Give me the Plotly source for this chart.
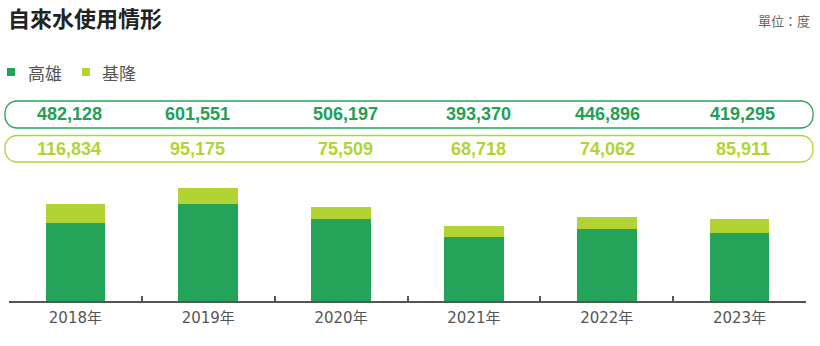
import plotly.graph_objects as go

# ---- data ----
years = ["2018年", "2019年", "2020年", "2021年", "2022年", "2023年"]
kaohsiung = [482128, 601551, 506197, 393370, 446896, 419295]
keelung = [116834, 95175, 75509, 68718, 74062, 85911]
series_names = ["高雄", "基隆"]
title_text = "自來水使用情形"
unit_text = "單位：度"

# ---- style ----
DARK = "#24a459"
DARK_TXT = "#22a055"
LIGHT = "#b3d334"
GRAY = "#555555"
W, H = 820, 346
L, R, T, B = 9, 14, 175, 45
PW, PH = W - L - R, H - T - B
CJK = "Noto Sans CJK TC, Noto Sans CJK SC, sans-serif"


def px(x):
    return (x - L) / PW


def py(y):
    return (H - B - y) / PH


def pill(x0, y0, x1, y1, r=12):
    k = 0.5523 * r
    p = lambda x, y: f"{px(x):.5f},{py(y):.5f}"
    return (
        f"M{p(x0 + r, y0)} L{p(x1 - r, y0)} "
        f"C{p(x1 - r + k, y0)} {p(x1, y0 + r - k)} {p(x1, y0 + r)} "
        f"L{p(x1, y1 - r)} "
        f"C{p(x1, y1 - r + k)} {p(x1 - r + k, y1)} {p(x1 - r, y1)} "
        f"L{p(x0 + r, y1)} "
        f"C{p(x0 + r - k, y1)} {p(x0, y1 - r + k)} {p(x0, y1 - r)} "
        f"L{p(x0, y0 + r)} "
        f"C{p(x0, y0 + r - k)} {p(x0 + r - k, y0)} {p(x0 + r, y0)} Z"
    )


fig = go.Figure()
fig.add_bar(x=years, y=kaohsiung, name=series_names[0], marker_color=DARK,
            marker_line_width=0, showlegend=False)
fig.add_bar(x=years, y=keelung, name=series_names[1], marker_color=LIGHT,
            marker_line_width=0, showlegend=False)

shapes = []
annotations = []

# pills
shapes.append(dict(type="path", xref="paper", yref="paper",
                   path=pill(5, 101, 813, 128), line=dict(color=DARK, width=1.3)))
shapes.append(dict(type="path", xref="paper", yref="paper",
                   path=pill(5, 135.5, 813, 162), line=dict(color=LIGHT, width=1.3)))

shifts = [-6, -11, 4, 5, 1, 3]
for i, yr in enumerate(years):
    annotations.append(dict(x=yr, xref="x", y=py(114), yref="paper",
                            text=f"{kaohsiung[i]:,}", showarrow=False, xshift=shifts[i],
                            font=dict(family="Liberation Sans, Arial", size=18, color=DARK_TXT,
                                      weight="bold"),
                            xanchor="center", yanchor="middle"))
    annotations.append(dict(x=yr, xref="x", y=py(148.5), yref="paper",
                            text=f"{keelung[i]:,}", showarrow=False, xshift=shifts[i],
                            font=dict(family="Liberation Sans, Arial", size=18, color=LIGHT,
                                      weight="bold"),
                            xanchor="center", yanchor="middle"))

# title
annotations.append(dict(x=px(6), y=py(17), xref="paper", yref="paper", text=title_text,
                        showarrow=False, xanchor="left", yanchor="middle",
                        font=dict(family=CJK, size=22, color="#222222", weight="bold")))
# unit
annotations.append(dict(x=px(812), y=py(20), xref="paper", yref="paper", text=unit_text,
                        showarrow=False, xanchor="right", yanchor="middle",
                        font=dict(family=CJK, size=13, color="#666666")))

# legend (manual)
leg = [(7, 26, DARK), (82, 100, LIGHT)]
for (sx, tx, col), name in zip(leg, series_names):
    shapes.append(dict(type="rect", xref="paper", yref="paper",
                       x0=px(sx), x1=px(sx + 8), y0=py(68), y1=py(76),
                       fillcolor=col, line=dict(width=0)))
    annotations.append(dict(x=px(tx), y=py(72), xref="paper", yref="paper", text=name,
                            showarrow=False, xanchor="left", yanchor="middle",
                            font=dict(family=CJK, size=17, color=GRAY)))

fig.update_layout(
    width=W, height=H,
    margin=dict(l=L, r=R, t=T, b=B, pad=0),
    barmode="stack", bargap=0.55,
    plot_bgcolor="white", paper_bgcolor="white",
    shapes=shapes, annotations=annotations,
    xaxis=dict(type="category", range=[-0.5, 5.5], showline=True, linecolor=GRAY,
               linewidth=1.5, ticks="inside", tickson="boundaries", ticklen=5,
               tickwidth=1.5, tickcolor=GRAY, showgrid=False, zeroline=False,
               ticklabelstandoff=2,
               tickfont=dict(family="DejaVu Sans, Noto Sans CJK TC", size=15, color=GRAY)),
    yaxis=dict(range=[0, 780000], visible=False, showgrid=False, zeroline=False),
    showlegend=False,
)

fig.write_html("out.html")
